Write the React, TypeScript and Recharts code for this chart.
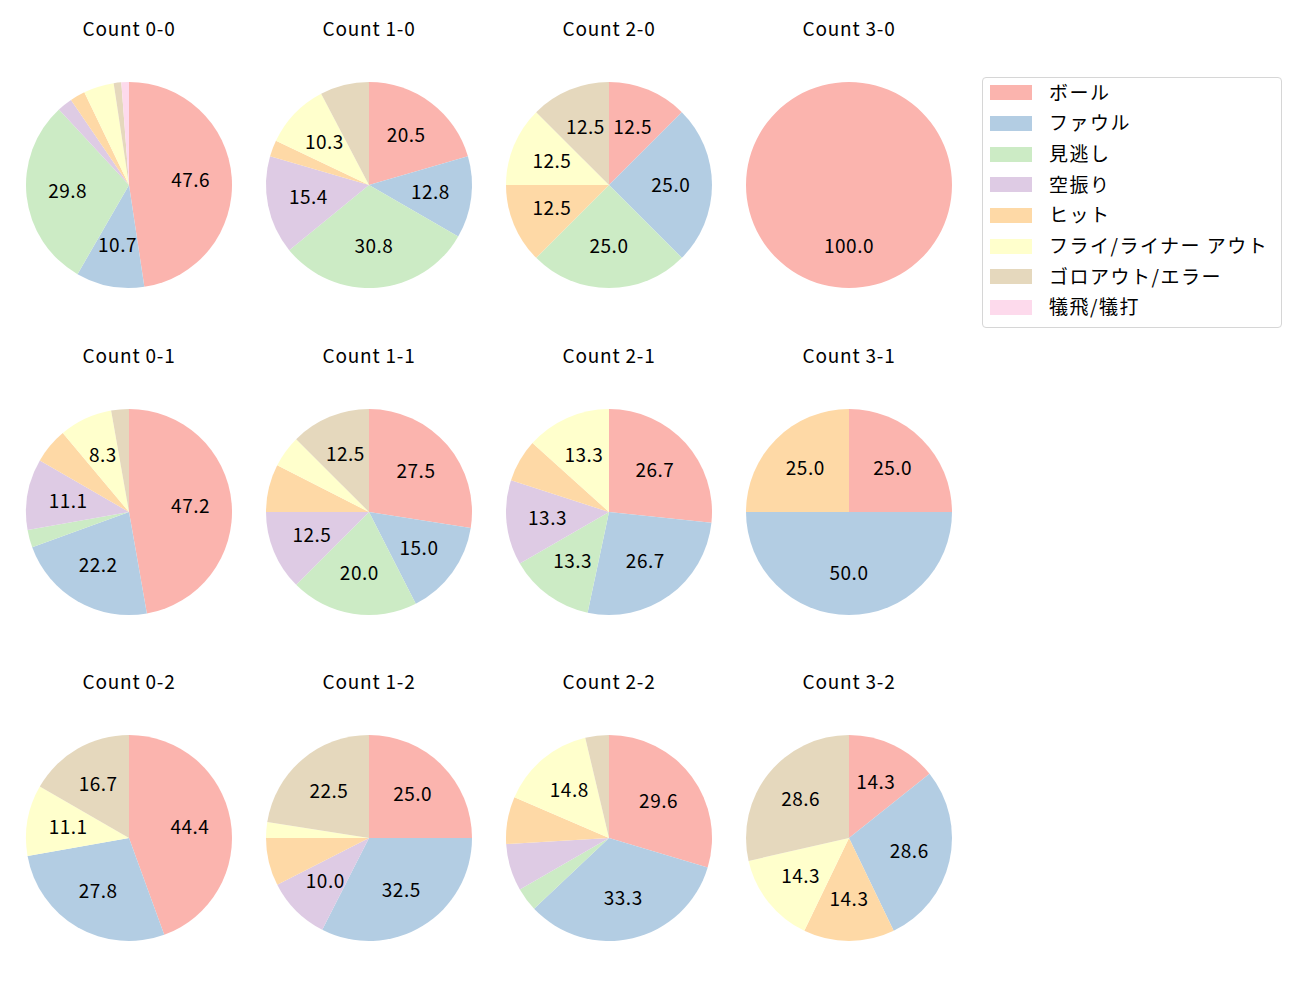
import React from 'react';
import { PieChart, Pie, Cell } from 'recharts';

const categories = ['ボール', 'ファウル', '見逃し', '空振り', 'ヒット', 'フライ/ライナー アウト', 'ゴロアウト/エラー', '犠飛/犠打'];
const colors = ['#fbb4ae', '#b3cde3', '#ccebc5', '#decbe4', '#fed9a6', '#ffffcc', '#e5d8bd', '#fddaec'];

const countTitles = [
  'Count 0-0', 'Count 1-0', 'Count 2-0', 'Count 3-0',
  'Count 0-1', 'Count 1-1', 'Count 2-1', 'Count 3-1',
  'Count 0-2', 'Count 1-2', 'Count 2-2', 'Count 3-2',
];

// pitch counts per category, in category order
const count00 = [40, 9, 25, 2, 2, 4, 1, 1];
const count10 = [8, 5, 12, 6, 1, 4, 3, 0];
const count20 = [1, 2, 2, 0, 1, 1, 1, 0];
const count30 = [1, 0, 0, 0, 0, 0, 0, 0];
const count01 = [17, 8, 1, 4, 2, 3, 1, 0];
const count11 = [11, 6, 8, 5, 3, 2, 5, 0];
const count21 = [4, 4, 2, 2, 1, 2, 0, 0];
const count31 = [1, 2, 0, 0, 1, 0, 0, 0];
const count02 = [8, 5, 0, 0, 0, 2, 3, 0];
const count12 = [10, 13, 0, 4, 3, 1, 9, 0];
const count22 = [8, 9, 1, 2, 2, 4, 1, 0];
const count32 = [1, 2, 0, 0, 1, 1, 2, 0];

const allCounts = [
  count00, count10, count20, count30,
  count01, count11, count21, count31,
  count02, count12, count22, count32,
];

const FONT = '"Noto Sans CJK JP", "Noto Sans", sans-serif';
const RAD = Math.PI / 180;
const colCenters = [129, 369, 609, 849];
const rowCenters = [185, 512, 838];
const titleYs = [27.5, 354.5, 680.5];
const R = 103;
const BOX = 240;

const renderLabel = (props: any) => {
  const { cx, cy, midAngle, outerRadius, percent } = props;
  const pct = percent * 100;
  if (pct < 8) return null;
  const r = outerRadius * 0.6;
  const x = cx + r * Math.cos(-midAngle * RAD);
  const y = cy + r * Math.sin(-midAngle * RAD) - 2;
  return (
    <text
      x={x}
      y={y}
      textAnchor="middle"
      dominantBaseline="central"
      fill="#000"
      fontSize={19}
      letterSpacing={0.5}
      fontFamily={FONT}
    >
      {pct.toFixed(1)}
    </text>
  );
};

function SinglePie({ idx }: { idx: number }) {
  const col = idx % 4;
  const row = Math.floor(idx / 4);
  const data = categories.map((name, i) => ({ name, value: allCounts[idx][i] }));
  const cx = colCenters[col];
  const cy = rowCenters[row];
  return (
    <>
      <div
        style={{
          position: 'absolute',
          left: cx - 100,
          width: 200,
          top: titleYs[row] - 14,
          height: 28,
          lineHeight: '28px',
          textAlign: 'center',
          fontFamily: FONT,
          fontSize: 19,
          letterSpacing: 0.8,
          color: '#000',
        }}
      >
        {countTitles[idx]}
      </div>
      <div style={{ position: 'absolute', left: cx - BOX / 2, top: cy - BOX / 2 }}>
        <PieChart width={BOX} height={BOX} margin={{ top: 0, right: 0, bottom: 0, left: 0 }}>
          <Pie
            data={data}
            dataKey="value"
            nameKey="name"
            cx={BOX / 2}
            cy={BOX / 2}
            outerRadius={R}
            startAngle={90}
            endAngle={-270}
            stroke="none"
            labelLine={false}
            label={renderLabel}
            isAnimationActive={false}
          >
            {data.map((d, i) => (
              <Cell key={i} fill={colors[i]} stroke="none" />
            ))}
          </Pie>
        </PieChart>
      </div>
    </>
  );
}

function Legend() {
  return (
    <div
      style={{
        position: 'absolute',
        left: 982,
        top: 77,
        width: 298,
        height: 249,
        border: '1px solid #d6d6d6',
        borderRadius: 4,
        background: '#fff',
      }}
    >
      {categories.map((c, i) => {
        const yc = 14.7 + i * 30.66;
        return (
          <React.Fragment key={c}>
            <div
              style={{
                position: 'absolute',
                left: 7,
                top: yc - 7.5,
                width: 42,
                height: 15,
                background: colors[i],
              }}
            />
            <div
              style={{
                position: 'absolute',
                left: 66,
                top: yc - 15,
                height: 28,
                lineHeight: '28px',
                fontFamily: FONT,
                fontSize: 19,
                letterSpacing: 1.5,
                whiteSpace: 'nowrap',
                color: '#000',
              }}
            >
              {c}
            </div>
          </React.Fragment>
        );
      })}
    </div>
  );
}

export default function App() {
  return (
    <div
      style={{
        position: 'absolute',
        left: 0,
        top: 0,
        width: 1300,
        height: 1000,
        background: '#fff',
        overflow: 'hidden',
      }}
    >
      {countTitles.map((_, i) => (
        <SinglePie key={i} idx={i} />
      ))}
      <Legend />
    </div>
  );
}
